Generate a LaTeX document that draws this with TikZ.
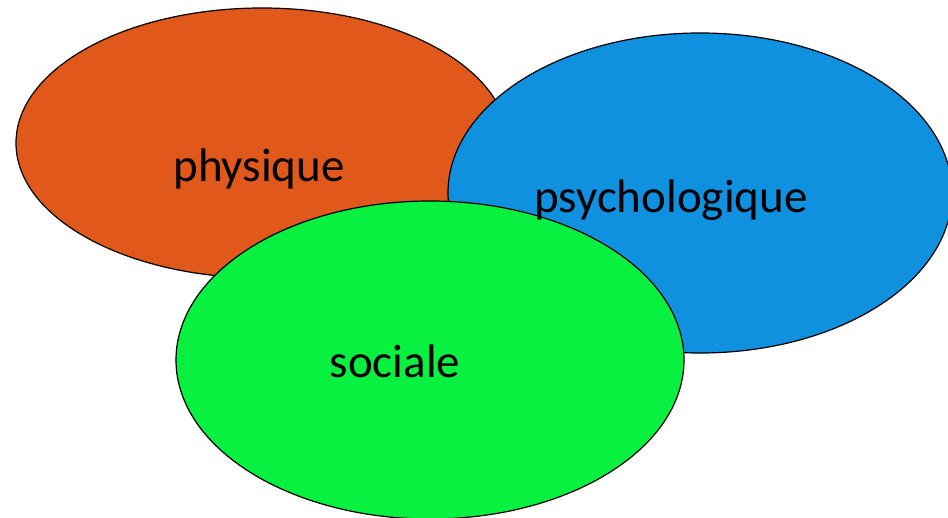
\documentclass[tikz,border=0pt]{standalone}
\usepackage{fontspec}
\setmainfont{Carlito}
\usetikzlibrary{shapes.geometric}
\definecolor{orangeC}{RGB}{224,88,26}
\definecolor{blueC}{RGB}{16,145,224}
\definecolor{greenC}{RGB}{8,240,64}
\begin{document}
\begin{tikzpicture}[x=1pt,y=-1pt,
  blob/.style={ellipse, draw=black, line width=1.2pt, inner sep=0pt},
  lbl/.style={anchor=base, inner sep=0pt, font=\fontsize{47}{56}\selectfont}]
\useasboundingbox (0,0) rectangle (948,518);
\begin{scope}
\clip (0,0) rectangle (948,518);
\node[blob, fill=orangeC, minimum width=492pt, minimum height=270pt] (phys) at (262,143) {};
\node[blob, fill=blueC, minimum width=504pt, minimum height=320pt] (psy) at (700,193) {};
\node[blob, fill=greenC, minimum width=508pt, minimum height=318pt] (soc) at (430,360) {};
\end{scope}
\node[lbl] (tphys) at (259,182) {physique};
\node[lbl] (tpsy) at (671,213) {psychologique};
\node[lbl] (tsoc) at (395,378) {sociale};
\end{tikzpicture}
\end{document}
